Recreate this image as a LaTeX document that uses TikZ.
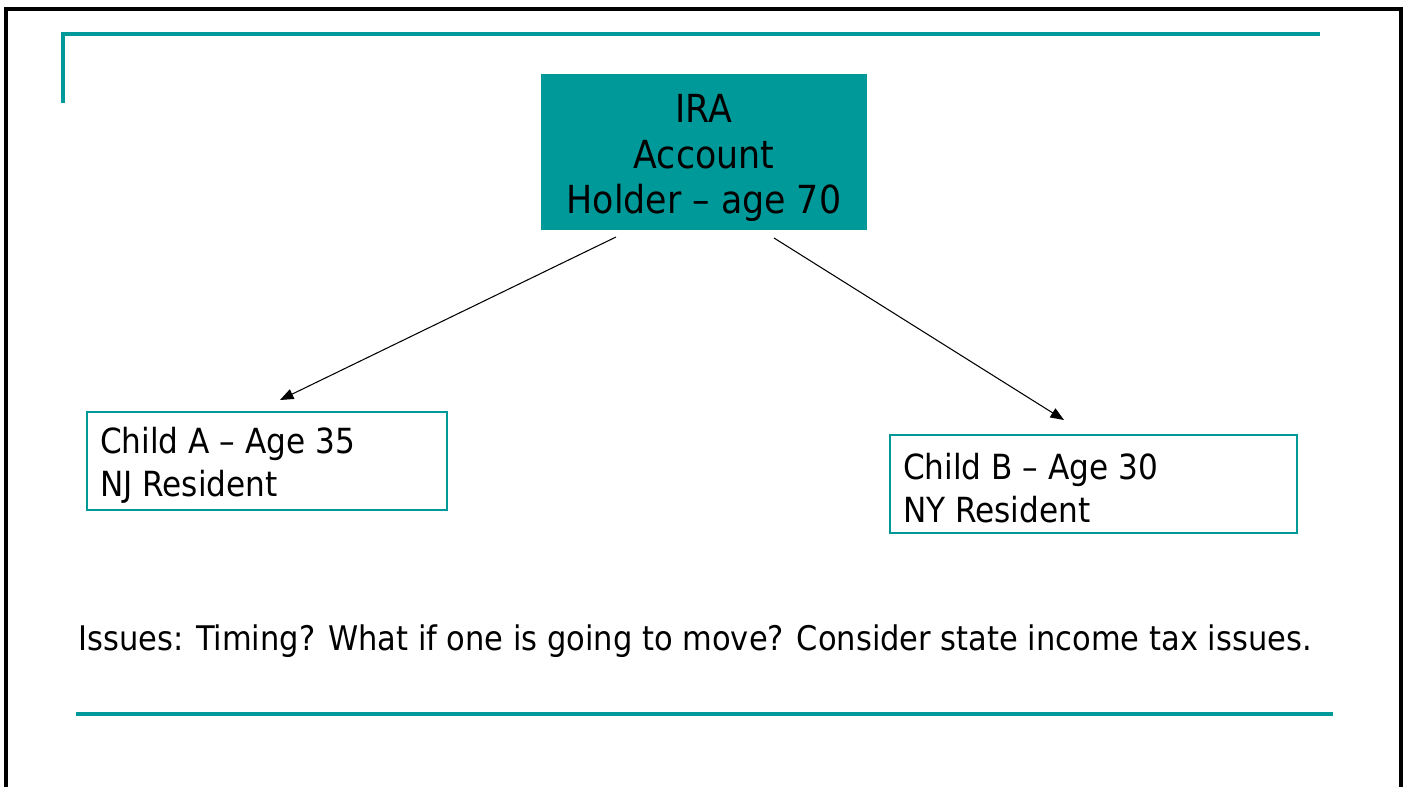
\documentclass[tikz,border=0pt]{standalone}
\usepackage{fontspec}
\usetikzlibrary{arrows.meta}
\setmainfont{DejaVu Sans Condensed}
\definecolor{teal1}{HTML}{009999}
\begin{document}
\begin{tikzpicture}[x=0.02cm,y=-0.02cm,
  frame/.style={line width=2.2pt},
  rule/.style={draw=teal1,line width=2.2pt},
  childbox/.style={draw=teal1,line width=0.8pt,inner sep=0pt},
  txt/.style={font=\fontsize{19.7}{24.5}\selectfont},
  conn/.style={-{Triangle[length=0.27cm,width=0.21cm]},line width=0.6pt}]
\useasboundingbox (0,0) rectangle (1409,787);
\draw[frame] (6,787) -- (6,9) -- (1401,9) -- (1401,787);
\draw[rule] (63,103) -- (63,34) -- (1320,34);
\draw[rule] (76,714) -- (1333,714);
\node[fill=teal1,minimum width=326*0.02cm,minimum height=156*0.02cm,inner sep=0pt] (ira) at (704,152) {};
\node[font=\fontsize{22}{26}\selectfont,align=center] (irat) at (704,158) {IRA\\Account\\Holder – age 70};
\node[childbox,minimum width=360*0.02cm,minimum height=98*0.02cm] (ca) at (267,461) {};
\node[childbox,minimum width=407*0.02cm,minimum height=98*0.02cm] (cb) at (1093.5,484) {};
\node[txt,anchor=west,align=left] (ta) at (94,465) {Child A – Age 35\\NJ Resident};
\node[txt,anchor=west,align=left] (tb) at (897,488) {Child B – Age 30\\NY Resident};
\coordinate (a1) at (616,237);
\coordinate (a2) at (280,400);
\coordinate (b1) at (774,238);
\coordinate (b2) at (1064,420);
\draw[conn] (a1) -- (a2);
\draw[conn] (b1) -- (b2);
\node[txt,font=\fontsize{19.3}{24}\selectfont,anchor=west] (iss) at (72,641) {Issues: Timing? What if one is going to move? Consider state income tax issues.};
\end{tikzpicture}
\end{document}
